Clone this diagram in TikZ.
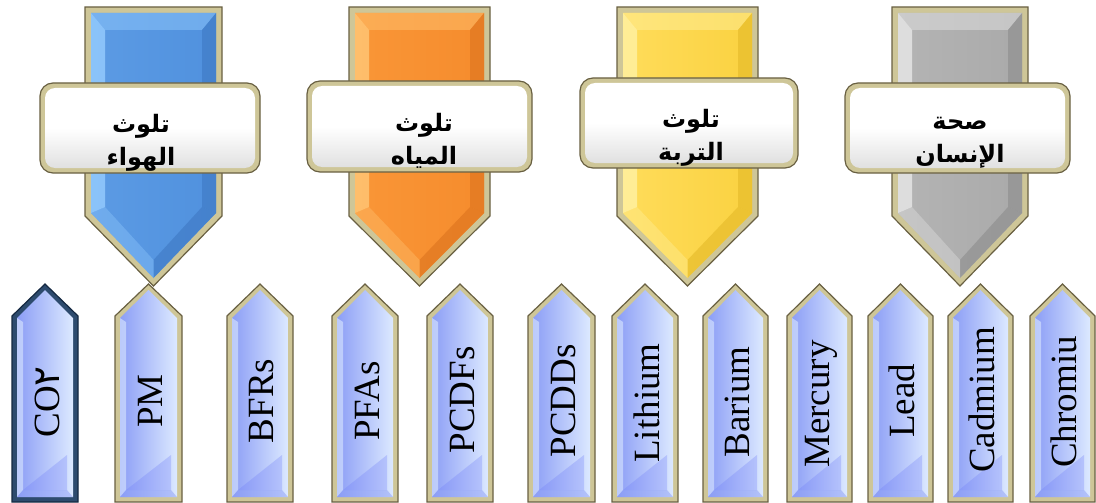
\documentclass[tikz,border=0pt]{standalone}
\usepackage{fontspec}
\setmainfont{Liberation Serif}
\newfontfamily\arabicfont[Script=Arabic]{DejaVu Sans}
\TeXXeTstate=1
\definecolor{khaki}{RGB}{206,198,152}
\definecolor{khakidark}{RGB}{105,96,66}
\definecolor{navyedge}{RGB}{45,75,110}
\definecolor{navydark}{RGB}{20,40,65}
\definecolor{lavA}{RGB}{140,158,246}
\definecolor{lavB}{RGB}{155,172,252}
\definecolor{lavC}{RGB}{220,233,255}
\definecolor{blueA}{RGB}{80,145,222}
\definecolor{blueB}{RGB}{92,155,228}
\definecolor{blueL}{RGB}{150,205,255}
\definecolor{blueD}{RGB}{62,120,195}
\definecolor{orA}{RGB}{245,140,45}
\definecolor{orB}{RGB}{250,150,55}
\definecolor{orL}{RGB}{255,200,120}
\definecolor{orD}{RGB}{220,115,30}
\definecolor{yeA}{RGB}{250,210,65}
\definecolor{yeB}{RGB}{255,220,90}
\definecolor{yeL}{RGB}{255,242,165}
\definecolor{yeD}{RGB}{228,185,40}
\definecolor{grA}{RGB}{170,170,170}
\definecolor{grB}{RGB}{180,180,180}
\definecolor{grL}{RGB}{232,232,232}
\definecolor{grD}{RGB}{140,140,140}
\tikzset{
  frame/.style={fill=khaki, draw=khakidark, line width=1.2pt, line join=miter},
  smtxt/.style={font=\fontsize{37}{40}\selectfont, inner sep=0pt, rotate=90},
  lbltxt/.style={font=\arabicfont\bfseries\fontsize{24}{33}\selectfont, align=center, inner sep=0pt},
  lblbox/.style={fill=khaki, draw=khakidark, line width=1.2pt, rounded corners=13pt},
  lblface/.style={top color=white, bottom color=black!12, middle color=white, rounded corners=10pt}
}
% big down arrow: #1 left, #2 right, #3 base, #4 light, #5 dark, #6 mid
\newcommand\bigdown[6]{%
  \pgfmathsetmacro\mx{(#1+#2)/2}%
  \path[frame] (#1,7) -- (#2,7) -- (#2,216) -- (\mx,286) -- (#1,216) -- cycle;
  \shade[left color=#6, right color=#3] ({#1+6},13) -- ({#2-6},13) -- ({#2-6},213) -- (\mx,278) -- ({#1+6},213) -- cycle;
  \fill[#4, opacity=0.45] ({#1+6},13) -- ({#2-6},13) -- ({#2-20},30) -- ({#1+20},30) -- cycle;
  \fill[#4, opacity=0.8] ({#1+6},13) -- ({#1+20},30) -- ({#1+20},207) -- ({#1+6},213) -- cycle;
  \fill[#5, opacity=0.6] ({#2-6},13) -- ({#2-20},30) -- ({#2-20},207) -- ({#2-6},213) -- cycle;
  \fill[#5, opacity=0.6] ({#2-6},213) -- (\mx,278) -- (\mx,260) -- ({#2-20},207) -- cycle;
  \fill[#4, opacity=0.35] ({#1+6},213) -- (\mx,278) -- (\mx,260) -- ({#1+20},207) -- cycle;
}
% small up arrow: #1 left, #2 right, #3 edge colour, #4 outline colour
\newcommand\smallup[4]{%
  \pgfmathsetmacro\cx{(#1+#2)/2}%
  \path[fill=#3, draw=#4, line width=1.2pt, line join=miter] (#1,316) -- (\cx,284) -- (#2,316) -- (#2,502) -- (#1,502) -- cycle;
  \shade[left color=lavA, middle color=lavB, right color=lavC] ({#1+5},318) -- (\cx,290) -- ({#2-5},318) -- ({#2-5},497) -- ({#1+5},497) -- cycle;
  \fill[lavC, opacity=0.6] ({#1+5},318) -- ({#1+11},322) -- ({#1+11},490) -- ({#1+5},497) -- cycle;
  \fill[lavA, opacity=0.5] ({#1+5},497) -- ({#2-5},497) -- ({#2-11},490) -- ({#1+11},490) -- cycle;
  \fill[lavA!80!blue, opacity=0.3] ({#1+11},490) -- ({#2-11},490) -- ({#2-11},455) -- cycle;
}
\begin{document}
\begin{tikzpicture}[x=1pt, y=-1pt]
\useasboundingbox (0,0) rectangle (1096,503);
% big arrows
\bigdown{85}{222}{blueA}{blueL}{blueD}{blueB}
\bigdown{349}{490}{orA}{orL}{orD}{orB}
\bigdown{617}{758}{yeA}{yeL}{yeD}{yeB}
\bigdown{892}{1028}{grA}{grL}{grD}{grB}
% label boxes
\path[lblbox] (40,83) rectangle (260,173);
\shade[lblface] (45,88) rectangle (255,168);
\path[lblbox] (307,81) rectangle (532,172);
\shade[lblface] (312,86) rectangle (527,167);
\path[lblbox] (580,78) rectangle (798,168);
\shade[lblface] (585,83) rectangle (793,163);
\path[lblbox] (845,83) rectangle (1070,173);
\shade[lblface] (850,88) rectangle (1065,168);
\node[lbltxt] (air) at (141,143) {\beginR تلوث\endR\\\beginR الهواء\endR};
\node[lbltxt] (water) at (424,141) {\beginR تلوث\endR\\\beginR المياه\endR};
\node[lbltxt] (soil) at (691,138) {\beginR تلوث\endR\\\beginR التربة\endR};
\node[lbltxt] (health) at (960,143) {\beginR صحة\endR\\\beginR الإنسان\endR};
% small arrows
\smallup{12}{78}{navyedge}{navydark}
\smallup{115}{182}{khaki}{khakidark}
\smallup{227}{293}{khaki}{khakidark}
\smallup{332}{398}{khaki}{khakidark}
\smallup{427}{493}{khaki}{khakidark}
\smallup{528}{595}{khaki}{khakidark}
\smallup{612}{678}{khaki}{khakidark}
\smallup{703}{768}{khaki}{khakidark}
\smallup{787}{852}{khaki}{khakidark}
\smallup{868}{933}{khaki}{khakidark}
\smallup{948}{1013}{khaki}{khakidark}
\smallup{1030}{1095}{khaki}{khakidark}
\node[smtxt] (co2) at (47,402) {CO{\arabicfont ٢}};
\node[smtxt] (pm) at (150,401) {PM};
\node[smtxt] (bfrs) at (262,401) {BFRs};
\node[smtxt] (pfas) at (367,401) {PFAs};
\node[smtxt] (pcdfs) at (462,400) {PCDFs};
\node[smtxt] (pcdds) at (563,401) {PCDDs};
\node[smtxt] (lithium) at (647,403) {Lithium};
\node[smtxt] (barium) at (737,402) {Barium};
\node[smtxt] (mercury) at (821,404) {Mercury};
\node[smtxt] (lead) at (902,401) {Lead};
\node[smtxt] (cadmium) at (982,400) {Cadmium};
\node[smtxt] (chromiu) at (1064,402) {Chromiu};
\end{tikzpicture}
\end{document}
